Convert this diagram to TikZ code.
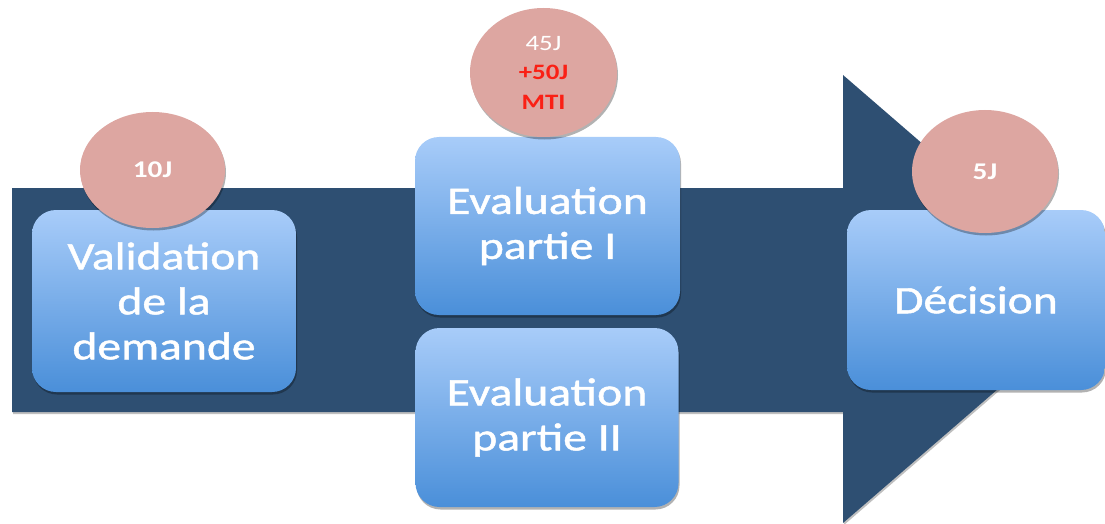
\documentclass[tikz,border=0pt]{standalone}
\usepackage{fontspec}
\setmainfont{Carlito}[FakeStretch=1.22]
\newfontfamily\stagefont{Carlito}[FakeStretch=1.22,FakeBold=1.2]
\usetikzlibrary{shapes.geometric,shadows}
\definecolor{arrowcol}{HTML}{2E4F72}
\definecolor{ellcol}{HTML}{DDA6A1}
\definecolor{boxtop}{HTML}{A8CCF9}
\definecolor{boxbot}{HTML}{4A8FD9}
\definecolor{redtxt}{HTML}{FA2015}
\begin{document}
\begin{tikzpicture}[x=1pt,y=-1pt,
  softshadow/.style={drop shadow={shadow xshift=1pt,shadow yshift=-2.5pt,opacity=0.3,fill=black}},
  stagebox/.style={rectangle, rounded corners=24pt, top color=boxtop, bottom color=boxbot,
    inner sep=0pt, text=white, align=center,
    font=\stagefont\fontsize{39}{45}\selectfont, softshadow},
  durell/.style={ellipse, fill=ellcol, inner sep=0pt, text=white, align=center, softshadow}]
\useasboundingbox (0,0) rectangle (1105,524);
\clip (0,0) rectangle (1105,524);
% big process arrow
\fill[arrowcol, drop shadow={shadow xshift=1pt,shadow yshift=-2pt,opacity=0.25,fill=black}]
  (12,188) -- (843,188) -- (843,75) -- (1102,299) -- (843,523) -- (843,412) -- (12,412) -- cycle;
% stage boxes
\node[stagebox, minimum width=264pt, minimum height=182pt] (val) at (164,301)
  {Validation\\de la\\demande};
\node[stagebox, minimum width=265pt, minimum height=178pt] (eva1) at (547.5,226)
  {Evaluation\\partie I};
\node[stagebox, minimum width=263pt, minimum height=179pt] (eva2) at (547,417.5)
  {Evaluation\\partie II};
\node[stagebox, minimum width=258pt, minimum height=180pt] (dec) at (976,300)
  {Décision};
% duration ellipses
\node[durell, minimum width=145pt, minimum height=116pt, font=\bfseries\fontsize{24}{28}\selectfont] (d10) at (152.5,170) {10J};
\node[durell, minimum width=147pt, minimum height=129pt, font=\fontsize{22}{29.5}\selectfont] (d45) at (543.5,72.5)
  {45J\\{\bfseries\color{redtxt}+50J}\\{\bfseries\color{redtxt}MTI}};
\node[durell, minimum width=146pt, minimum height=123pt, font=\bfseries\fontsize{24}{28}\selectfont] (d5) at (985,171.5) {5J};
\end{tikzpicture}
\end{document}
